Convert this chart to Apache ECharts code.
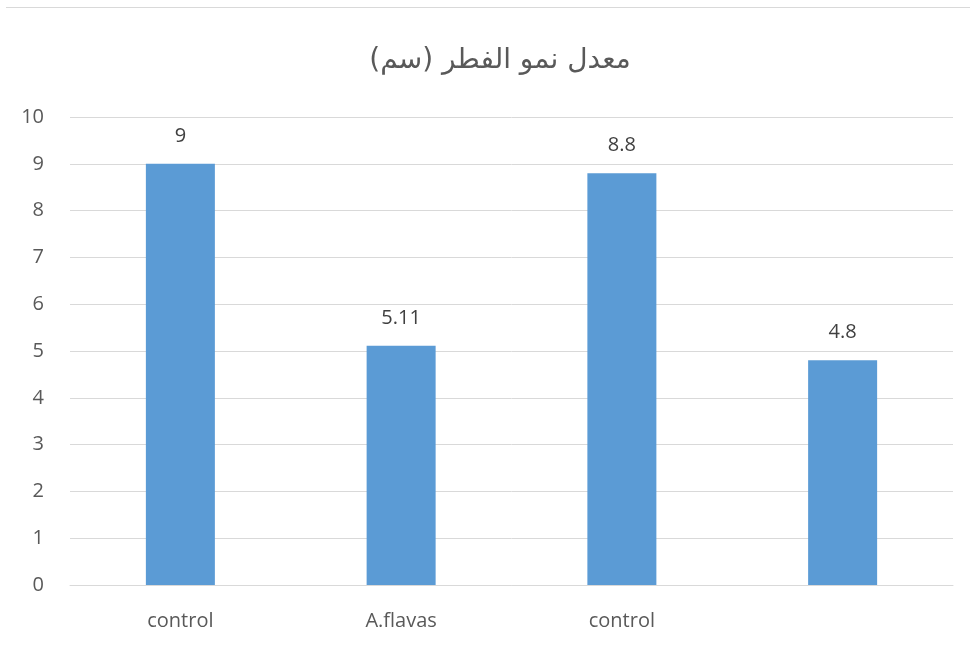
<!DOCTYPE html>
<html><head><meta charset="utf-8">
<script src="https://cdn.jsdelivr.net/npm/echarts@6/dist/echarts.min.js"></script>
<style>html,body{margin:0;padding:0;background:#fff}#c{width:970px;height:650px}
#b{position:absolute;left:6px;top:7px;right:0;height:0;border-top:1px solid #d9d9d9}</style>
</head><body><div id="b"></div><div id="c"></div>
<script>
const title = 'معدل نمو الفطر (سم)';
const categories = ['control', 'A.flavas', 'control', ''];
const values = [9, 5.11, 8.8, 4.8];
const yTicks = [0, 1, 2, 3, 4, 5, 6, 7, 8, 9, 10];

const chart = echarts.init(document.getElementById('c'), null, {renderer: 'canvas'});
chart.setOption({
  animation: false,
  title: {text: title, left: 495, textAlign: 'center', top: 42,
    textStyle: {fontFamily: 'DejaVu Sans', fontSize: 28, fontWeight: 'normal', color: '#595959'}},
  grid: {left: 70, right: 17, top: 117, bottom: 65},
  xAxis: {type: 'category', data: categories,
    axisLine: {lineStyle: {color: '#d9d9d9', width: 1}},
    axisTick: {show: false},
    axisLabel: {fontFamily: 'Open Sans', fontSize: 20, color: '#595959', margin: 26}},
  yAxis: {type: 'value', min: yTicks[0], max: yTicks[yTicks.length - 1], interval: 1,
    axisLine: {show: false}, axisTick: {show: false},
    splitLine: {lineStyle: {color: '#d9d9d9', width: 1}},
    axisLabel: {fontFamily: 'Open Sans', fontSize: 20, color: '#595959', margin: 26}},
  series: [{type: 'bar', data: values, barWidth: 69,
    itemStyle: {color: '#5b9bd5'},
    label: {show: true, position: 'top', distance: 18,
      fontFamily: 'Open Sans', fontSize: 20, color: '#404040'}}]
});
</script></body></html>
